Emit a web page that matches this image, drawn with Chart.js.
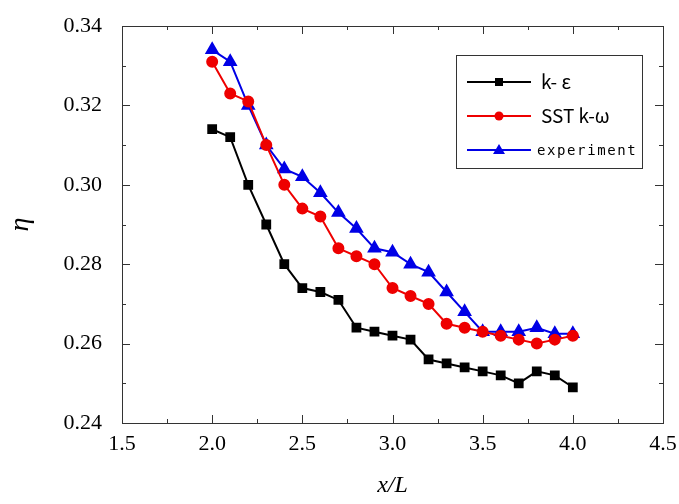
<!DOCTYPE html>
<html>
<head>
<meta charset="UTF-8">
<title>eta vs x/L</title>
<script src="https://cdn.jsdelivr.net/npm/chart.js"></script>
<style>
  html, body { margin: 0; padding: 0; background: #fff; }
  #wrap { width: 679px; height: 504px; }
</style>
</head>
<body>
<div id="wrap"><canvas id="c" width="679" height="504"></canvas></div>
<script>
// x/L positions and the three series
const xs = [2.0, 2.1, 2.2, 2.3, 2.4, 2.5, 2.6, 2.7, 2.8, 2.9, 3.0, 3.1, 3.2, 3.3, 3.4, 3.5, 3.6, 3.7, 3.8, 3.9, 4.0];
const kEps = [0.314, 0.312, 0.300, 0.290, 0.280, 0.274, 0.273, 0.271, 0.264, 0.263, 0.262, 0.261, 0.256, 0.255, 0.254, 0.253, 0.252, 0.250, 0.253, 0.252, 0.249];
const sstKw = [0.331, 0.323, 0.321, 0.310, 0.300, 0.294, 0.292, 0.284, 0.282, 0.280, 0.274, 0.272, 0.270, 0.265, 0.264, 0.263, 0.262, 0.261, 0.260, 0.261, 0.262];
const expt = [0.334, 0.331, 0.320, 0.310, 0.304, 0.302, 0.298, 0.293, 0.289, 0.284, 0.283, 0.280, 0.278, 0.273, 0.268, 0.263, 0.263, 0.263, 0.264, 0.2625, 0.2625];
const seriesNames = ['k- \u03b5', 'SST k-\u03c9', 'experiment'];

const xTicks = [1.5, 2.0, 2.5, 3.0, 3.5, 4.0, 4.5];
const yTicks = [0.24, 0.26, 0.28, 0.30, 0.32, 0.34];
const xMinor = [1.75, 2.25, 2.75, 3.25, 3.75, 4.25];
const yMinor = [0.25, 0.27, 0.29, 0.31, 0.33];

const pts = arr => arr.map((v, i) => ({ x: xs[i], y: v }));

// frame with inward ticks on all four sides
const framePlugin = {
  id: 'frame',
  afterDraw(chart) {
    const { ctx, chartArea: a, scales } = chart;
    const sx = scales.x, sy = scales.y;
    ctx.save();
    ctx.strokeStyle = '#333';
    ctx.lineWidth = 1;
    ctx.strokeRect(a.left + 0.5, a.top + 0.5, a.right - a.left, a.bottom - a.top);
    ctx.beginPath();
    const tx = (v, len) => {
      const p = Math.round(sx.getPixelForValue(v)) + 0.5;
      ctx.moveTo(p, a.bottom); ctx.lineTo(p, a.bottom - len);
      ctx.moveTo(p, a.top); ctx.lineTo(p, a.top + len);
    };
    const ty = (v, len) => {
      const p = Math.round(sy.getPixelForValue(v)) + 0.5;
      ctx.moveTo(a.left, p); ctx.lineTo(a.left + len, p);
      ctx.moveTo(a.right, p); ctx.lineTo(a.right - len, p);
    };
    xTicks.forEach(v => tx(v, 8));
    xMinor.forEach(v => tx(v, 4));
    yTicks.forEach(v => ty(v, 8));
    yMinor.forEach(v => ty(v, 4));
    ctx.stroke();
    ctx.restore();
  }
};

// boxed legend in the upper right
const legendPlugin = {
  id: 'boxLegend',
  afterDraw(chart) {
    const { ctx } = chart;
    ctx.save();
    ctx.strokeStyle = '#333';
    ctx.lineWidth = 1;
    ctx.strokeRect(456.5, 55.5, 186, 113);
    const rows = [82, 116, 150];
    chart.data.datasets.forEach((ds, i) => {
      const y = rows[i];
      ctx.strokeStyle = ds.borderColor;
      ctx.lineWidth = 2;
      ctx.beginPath();
      ctx.moveTo(467, y); ctx.lineTo(531, y);
      ctx.stroke();
      ctx.fillStyle = ds.backgroundColor;
      ctx.beginPath();
      if (ds.pointStyle === 'rect') {
        ctx.rect(495, y - 4, 8, 8);
      } else if (ds.pointStyle === 'circle') {
        ctx.arc(499, y, 4.5, 0, Math.PI * 2);
      } else {
        ctx.moveTo(499, y - 6); ctx.lineTo(505, y + 4); ctx.lineTo(493, y + 4); ctx.closePath();
      }
      ctx.fill();
      ctx.fillStyle = '#000';
      ctx.textBaseline = 'middle';
      if (i === 2) {
        ctx.font = '14px "DejaVu Sans Mono"';
        ctx.letterSpacing = '1.6px';
        ctx.fillText(seriesNames[i], 537, y + 1);
        ctx.letterSpacing = '0px';
      } else {
        ctx.font = '19px "Noto Sans CJK SC"';
        ctx.fillText(seriesNames[i], 541, y);
      }
    });
    ctx.restore();
  }
};

const serif = '"Liberation Serif", "Times New Roman", serif';

new Chart(document.getElementById('c'), {
  type: 'line',
  data: {
    datasets: [
      { label: seriesNames[0], data: pts(kEps), borderColor: '#000000', backgroundColor: '#000000',
        borderWidth: 2, pointStyle: 'rect', pointRadius: 5.5 },
      { label: seriesNames[1], data: pts(sstKw), borderColor: '#ee0000', backgroundColor: '#ee0000',
        borderWidth: 2, pointStyle: 'circle', pointRadius: 5 },
      { label: seriesNames[2], data: pts(expt), borderColor: '#0000e6', backgroundColor: '#0000e6',
        borderWidth: 2, pointStyle: 'triangle', pointRadius: 6.5 }
    ]
  },
  options: {
    responsive: false,
    animation: false,
    layout: { padding: { top: 26, right: 16, left: 0, bottom: 0 } },
    plugins: { legend: { display: false }, tooltip: { enabled: false } },
    elements: { line: { tension: 0 }, point: { borderWidth: 0 } },
    scales: {
      x: {
        type: 'linear', min: 1.5, max: 4.5,
        afterBuildTicks: s => { s.ticks = xTicks.map(v => ({ value: v })); },
        afterFit: s => { s.height = 81; },
        grid: { display: false },
        border: { display: false },
        ticks: { color: '#000', font: { family: serif, size: 22 }, padding: 0,
          maxRotation: 0, callback: v => v.toFixed(1) },
        title: { display: true, text: 'x/L', color: '#000',
          font: { family: serif, size: 24, style: 'italic' }, padding: { top: 22 } }
      },
      y: {
        type: 'linear', min: 0.24, max: 0.34,
        afterBuildTicks: s => { s.ticks = yTicks.map(v => ({ value: v })); },
        afterFit: s => { s.width = 122; },
        grid: { display: false },
        border: { display: false },
        ticks: { color: '#000', font: { family: serif, size: 22 }, padding: 12,
          callback: v => v.toFixed(2) },
        title: { display: true, text: '\u03b7', color: '#000',
          font: { family: serif, size: 28, style: 'italic' }, padding: { top: 4, bottom: 0 } }
      }
    }
  },
  plugins: [framePlugin, legendPlugin]
});
</script>
</body>
</html>
